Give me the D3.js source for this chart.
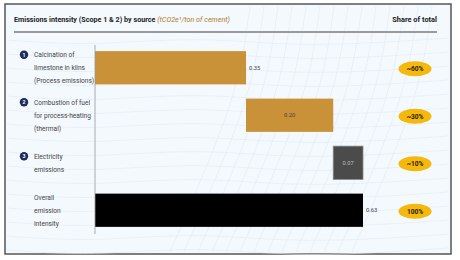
<!DOCTYPE html>
<html>
<head>
<meta charset="utf-8">
<script src="https://cdn.jsdelivr.net/npm/d3@7"></script>
<style>
  body { margin: 0; background: #fff; }
  svg text { font-family: Roboto, "Open Sans", sans-serif; }
</style>
</head>
<body>
<div id="chart"></div>
<script>
// data
var categories = [
  ["Calcination of", "limestone in kilns", "(Process emissions)"],
  ["Combustion of fuel", "for process-heating", "(thermal)"],
  ["Electricity", "emissions"],
  ["Overall", "emission", "intensity"]
];
var steps = [0.355, 0.205, 0.07];   // waterfall steps
var total = 0.63;
var valueLabels = ["0.35", "0.20", "0.07", "0.63"];
var shares = ["~60%", "~30%", "~10%", "100%"];

var width = 460, height = 260;

var svg = d3.select("#chart").append("svg")
  .attr("width", width)
  .attr("height", height);

// panel
svg.append("rect")
  .attr("x", 5).attr("y", 4)
  .attr("width", 446).attr("height", 250)
  .attr("fill", "#f4f9fd")
  .attr("stroke", "#555")
  .attr("stroke-width", 1.5);

// faint background waves
var deco = svg.append("g").attr("fill", "none").attr("stroke", "#e2ecf5").attr("stroke-width", 0.7);
var wave = d3.line().curve(d3.curveBasis);
d3.range(0, 16).forEach(function(i) {
  var y0 = 40 + i * 14;
  deco.append("path").attr("d", wave([[7, y0], [90, y0 + 6], [200, y0 - 4], [300, y0 + 8], [449, y0 - 2]]));
});
d3.range(0, 14).forEach(function(i) {
  var x0 = 250 + i * 14;
  deco.append("path").attr("d", wave([[x0, 6], [x0 - 10, 80], [x0 - 40, 160], [x0 - 80, 252]]));
});

// header
var title = svg.append("text")
  .attr("x", 14).attr("y", 22)
  .attr("font-size", 7.2)
  .attr("fill", "#222");
title.append("tspan").attr("font-weight", "bold").text("Emissions intensity (Scope 1 & 2) by source ");
title.append("tspan").attr("font-style", "italic").attr("fill", "#b07a2a").text("(tCO2e\u00b9/ton of cement)");

svg.append("text")
  .attr("x", 437).attr("y", 22)
  .attr("text-anchor", "end")
  .attr("font-size", 7.4)
  .attr("font-weight", "bold")
  .attr("fill", "#222")
  .text("Share of total");

svg.append("line")
  .attr("x1", 14).attr("x2", 437)
  .attr("y1", 32).attr("y2", 32)
  .attr("stroke", "#9a9a9a")
  .attr("stroke-width", 2);

// scales
var x = d3.scaleLinear().domain([0, total]).range([95, 363]);
var y = d3.scaleBand().domain(d3.range(categories.length)).range([44, 234]).paddingInner(0.3).paddingOuter(0.15);

// waterfall rows
var rows = [];
var cum = 0;
steps.forEach(function(v, i) {
  rows.push({ i: i, start: cum, end: cum + v });
  cum += v;
});
rows.push({ i: 3, start: 0, end: total });

var fills = ["#c99138", "#c99138", "#4b4b4b", "#000"];

svg.append("g").selectAll("rect")
  .data(rows)
  .enter().append("rect")
  .attr("x", d => x(d.start))
  .attr("y", d => y(d.i))
  .attr("width", d => x(d.end) - x(d.start))
  .attr("height", y.bandwidth())
  .attr("fill", (d, i) => fills[i])
  .attr("stroke", (d, i) => i === 2 ? "#888" : "none")
  .attr("stroke-width", 0.8);

// axis line
svg.append("line")
  .attr("x1", 95).attr("x2", 95)
  .attr("y1", 45).attr("y2", 234)
  .attr("stroke", "#999")
  .attr("stroke-width", 0.8);

// value labels: outside for 1st and total, inside for middle two
svg.append("g").selectAll("text")
  .data(rows)
  .enter().append("text")
  .attr("x", (d, i) => (i === 0 || i === 3) ? x(d.end) + 3 : (x(d.start) + x(d.end)) / 2)
  .attr("y", d => y(d.i) + y.bandwidth() / 2 + 2.2)
  .attr("text-anchor", (d, i) => (i === 0 || i === 3) ? "start" : "middle")
  .attr("font-size", 5.8)
  .attr("fill", (d, i) => i === 2 ? "#bbb" : "#444")
  .text((d, i) => valueLabels[i]);

// category labels
var cat = svg.append("g").selectAll("g")
  .data(categories)
  .enter().append("g")
  .attr("transform", (d, i) => "translate(0," + (y(i) + y.bandwidth() / 2) + ")");

cat.selectAll("text")
  .data(d => d)
  .enter().append("text")
  .attr("x", 34)
  .attr("y", (d, j, nodes) => (j - (nodes.length - 1) / 2) * 13 + 2.5)
  .attr("font-size", 6.6)
  .attr("fill", "#444")
  .text(d => d);

// numbered markers for the three sources
cat.filter((d, i) => i < 3).append("circle")
  .attr("cx", 24)
  .attr("cy", d => -(d.length - 1) / 2 * 13)
  .attr("r", 4.2)
  .attr("fill", "#1d2a5c");

cat.filter((d, i) => i < 3).append("text")
  .attr("x", 24)
  .attr("y", d => -(d.length - 1) / 2 * 13 + 2)
  .attr("text-anchor", "middle")
  .attr("font-size", 5.2)
  .attr("font-weight", "bold")
  .attr("fill", "#fff")
  .text((d, i) => i + 1);

// share pills
var pill = svg.append("g").selectAll("g")
  .data(shares)
  .enter().append("g")
  .attr("transform", (d, i) => "translate(415," + (y(i) + y.bandwidth() / 2 + 1) + ")");

pill.append("ellipse")
  .attr("rx", 16.5)
  .attr("ry", 7.5)
  .attr("fill", "#f5b80c");

pill.append("text")
  .attr("y", 2.4)
  .attr("text-anchor", "middle")
  .attr("font-size", 6.6)
  .attr("font-weight", "bold")
  .attr("fill", "#2a2200")
  .text(d => d);
</script>
</body>
</html>
